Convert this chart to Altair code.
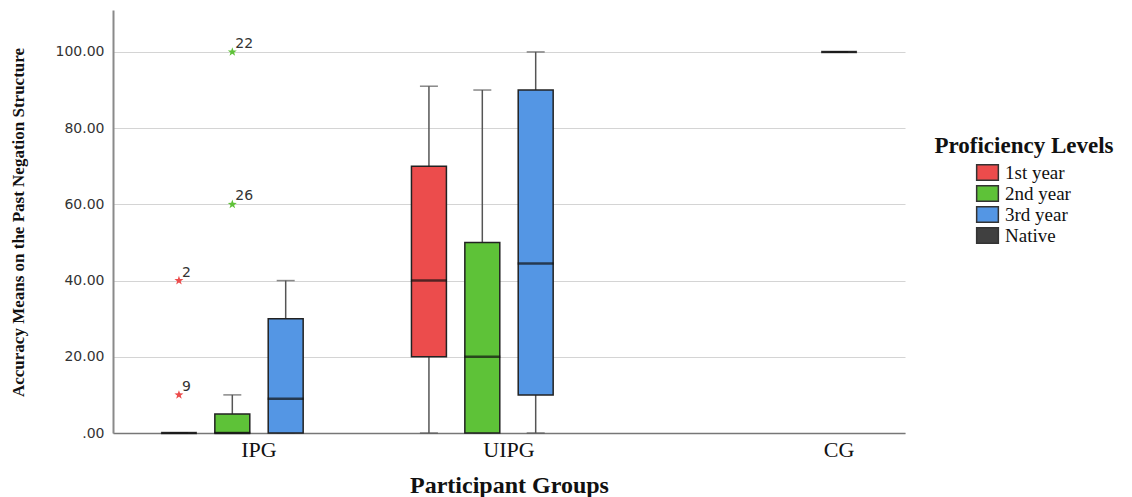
import altair as alt
import pandas as pd

# Summary statistics of the accuracy scores, one box per group / proficiency level
groups = ["IPG", "IPG", "IPG", "UIPG", "UIPG", "UIPG", "CG"]
levels = ["1st year", "2nd year", "3rd year", "1st year", "2nd year", "3rd year", "Native"]
whisker_low = [0, 0, 0, 0, 0, 0, 100]
quartile_1 = [0, 0, 0, 20, 0, 10, 100]
medians = [0, 0, 9, 40, 20, 44.5, 100]
quartile_3 = [0, 5, 30, 70, 50, 90, 100]
whisker_high = [0, 10, 40, 91, 90, 100, 100]

# Extreme values flagged with their case numbers
outlier_groups = ["IPG", "IPG", "IPG", "IPG"]
outlier_levels = ["1st year", "1st year", "2nd year", "2nd year"]
outlier_values = [40, 10, 100, 60]
outlier_cases = ["2", "9", "22", "26"]

group_order = ["IPG", "UIPG", "CG"]
level_order = ["1st year", "2nd year", "3rd year", "Native"]
level_colors = ["#EC4C4C", "#5EC238", "#5496E4", "#404040"]
y_ticks = [0, 20, 40, 60, 80, 100]

boxes = pd.DataFrame({
    "group": groups, "level": levels,
    "low": whisker_low, "q1": quartile_1, "median": medians,
    "q3": quartile_3, "high": whisker_high,
})
outliers = pd.DataFrame({
    "group": outlier_groups, "level": outlier_levels,
    "value": outlier_values, "case": outlier_cases,
})

STAR = ("M0,-1L0.235,-0.324L0.951,-0.309L0.38,0.124L0.588,0.809L0,0.4"
        "L-0.588,0.809L-0.38,0.124L-0.951,-0.309L-0.235,-0.324Z")
SWATCH = "M-1.4,-1L1.4,-1L1.4,1L-1.4,1Z"

Y_TITLE = "Accuracy Means on the Past Negation Structure"
X_TITLE = "Participant Groups"

x_scale = alt.Scale(domain=group_order, paddingInner=0.146, paddingOuter=0.157)
off_scale = alt.Scale(domain=level_order, paddingInner=0.345, paddingOuter=0.1725)
y_scale = alt.Scale(domain=[0, 111], nice=False, zero=True)
color_scale = alt.Scale(domain=level_order, range=level_colors)

x_axis = alt.Axis(
    labelAngle=0, ticks=False, grid=False,
    domainColor="#777777", domainWidth=1.5,
    labelFont="Liberation Serif", labelFontSize=22, labelColor="#111111",
    labelPadding=6,
    labelOffset={"condition": {"test": "datum.value === 'CG'", "value": 80}, "value": 0},
    titleFont="Liberation Serif", titleFontSize=24, titleFontWeight="bold",
    titleColor="#111111", titleY=40,
)
y_axis = alt.Axis(
    values=y_ticks, ticks=False, grid=True,
    gridColor="#d4d4d4", gridWidth=1.2,
    domainColor="#8a8a8a", domainWidth=2,
    labelExpr="datum.value == 0 ? '.00' : format(datum.value, '.2f')",
    labelFont="DejaVu Sans", labelFontSize=14, labelColor="#333333", labelPadding=9,
    titleFont="Liberation Serif", titleFontSize=17, titleFontWeight="bold",
    titleColor="#111111", titleX=-86, titleY=212,
)

# Every layer shares the same axis definitions so that they merge into one
x_enc = alt.X("group:N", scale=x_scale, axis=x_axis, title=X_TITLE)
x_off = alt.XOffset("level:N", scale=off_scale)


def y_enc(field):
    return alt.Y(field, type="quantitative", scale=y_scale, axis=y_axis, title=Y_TITLE)


plain_color = alt.Color("level:N", scale=color_scale, legend=None)

base = alt.Chart(boxes)

lower_whisker = base.mark_rule(color="#555555", strokeWidth=1.5).encode(
    x=x_enc, xOffset=x_off, y=y_enc("low"), y2="q1:Q",
)
upper_whisker = base.mark_rule(color="#555555", strokeWidth=1.5).encode(
    x=x_enc, xOffset=x_off, y=y_enc("q3"), y2="high:Q",
)
low_cap = base.mark_tick(color="#555555", thickness=1.5, size=18).encode(
    x=x_enc, xOffset=x_off, y=y_enc("low"),
)
high_cap = base.mark_tick(color="#555555", thickness=1.5, size=18).encode(
    x=x_enc, xOffset=x_off, y=y_enc("high"),
)
box = base.mark_bar(stroke="#222222", strokeWidth=1.5, opacity=1).encode(
    x=x_enc, xOffset=x_off, y=y_enc("q1"), y2="q3:Q",
    color=alt.Color(
        "level:N", scale=color_scale,
        legend=alt.Legend(
            title="Proficiency Levels", orient="none", legendX=821, legendY=125,
            padding=0, titleAnchor="middle", titlePadding=5,
            titleFont="Liberation Serif", titleFontSize=23, titleFontWeight="bold",
            titleColor="#111111",
            labelFont="Liberation Serif", labelFontSize=19, labelColor="#111111",
            labelOffset=8, rowPadding=-5,
            symbolType=SWATCH, symbolSize=240, symbolOpacity=1,
            symbolStrokeColor="#333333", symbolStrokeWidth=1.5,
        ),
    ),
)
median_line = base.mark_tick(color="#111111", thickness=2.5, size=36).encode(
    x=x_enc, xOffset=x_off, y=y_enc("median"),
)

pts = alt.Chart(outliers)
stars = pts.mark_point(shape=STAR, filled=True, size=90, opacity=1, strokeWidth=0).encode(
    x=x_enc, xOffset=x_off, y=y_enc("value"), color=plain_color,
)
case_labels = pts.mark_text(
    align="left", baseline="alphabetic", dx=3, dy=-4,
    font="DejaVu Sans", fontSize=14, color="#333333",
).encode(
    x=x_enc, xOffset=x_off, y=y_enc("value"), text="case:N",
)

chart = alt.layer(
    lower_whisker, upper_whisker, low_cap, high_cap, box, median_line, stars, case_labels
).properties(
    width=792, height=423,
    autosize=alt.AutoSizeParams(type="none"),
    padding={"left": 113, "top": 10, "right": 227, "bottom": 64},
).configure_view(stroke=None)

chart.save("out.html", embed_options={"renderer": "svg", "actions": False})
